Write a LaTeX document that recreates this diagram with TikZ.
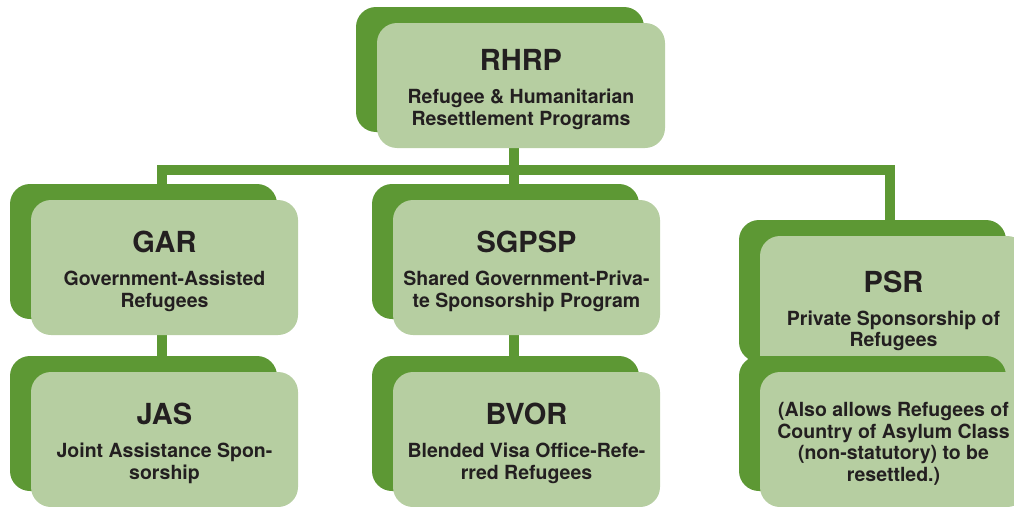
\documentclass[tikz,border=0pt]{standalone}
\usepackage{fontspec}
\setmainfont{TeX Gyre Heros}
\definecolor{leafgreen}{RGB}{93,152,52}
\definecolor{palegreen}{RGB}{182,206,161}
\definecolor{inkgray}{RGB}{35,31,32}
\usetikzlibrary{shadows,backgrounds}

\tikzset{
  card/.style={rectangle, rounded corners=20pt, fill=palegreen, text=inkgray,
    minimum width=267pt, minimum height=135pt, align=center, inner sep=0pt,
    font=\bfseries\fontsize{19.5}{21.5}\selectfont,
    general shadow={shadow xshift=-21pt, shadow yshift=16pt, fill=leafgreen}},
  link/.style={draw=leafgreen, line width=10pt, line join=miter},
}
\newcommand{\cardtitle}[1]{\rule{0pt}{29pt}{\fontsize{29}{29}\selectfont #1}\\[11.5pt]}

\begin{document}
\begin{tikzpicture}[x=1pt,y=-1pt]
  \useasboundingbox (0,0) rectangle (1014,506);
  \clip (0,0) rectangle (1014,506);

  % top level
  \node[card, minimum width=288pt, minimum height=125pt] (rhrp) at (521,85.5)
    {\cardtitle{RHRP}Refugee \& Humanitarian\\Resettlement Programs};

  % programs
  \node[card] (gar) at (164.5,267.5)
    {\cardtitle{GAR}Government-Assisted\\Refugees};
  \node[card] (sgpsp) at (526.5,267.5)
    {\cardtitle{SGPSP}Shared Government-Priva-\\te Sponsorship Program};
  \node[card, minimum height=142pt] (psr) at (893.5,307)
    {\cardtitle{PSR}Private Sponsorship of\\Refugees};

  % sub-programs
  \node[card] (jas) at (164.5,439.5)
    {\cardtitle{JAS}Joint Assistance Spon-\\sorship};
  \node[card] (bvor) at (526.5,439.5)
    {\cardtitle{BVOR}Blended Visa Office-Refe-\\rred Refugees};
  \node[card] (note) at (893.5,439.5)
    {\rule{0pt}{22.5pt}(Also allows Refugees of\\Country of Asylum Class\\(non-statutory) to be\\resettled.)};

  \coordinate (bus) at (513.5,170);
  \begin{scope}[on background layer]
    \draw[link] ([xshift=-2.5pt]jas.center) |- (bus) -| ([xshift=-3.5pt]psr.center);
    \draw[link] (bus |- rhrp.center) -- (bus |- bvor.center);
  \end{scope}
\end{tikzpicture}
\end{document}
